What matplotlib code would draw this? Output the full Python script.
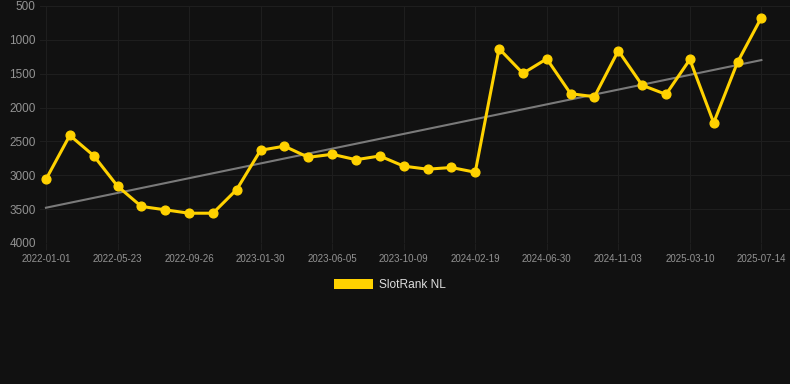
import numpy as np
import matplotlib
matplotlib.use("Agg")
import matplotlib.pyplot as plt
from matplotlib.patches import Patch

plt.rcParams['font.family'] = ['Liberation Sans', 'DejaVu Sans']

# slot rank per sample (lower is better, axis inverted)
rank = [3060, 2410, 2710, 3160, 3460, 3510, 3560, 3560, 3210, 2630,
        2570, 2735, 2690, 2770, 2715, 2865, 2910, 2885, 2955, 1130,
        1495, 1280, 1795, 1840, 1160, 1670, 1805, 1290, 2225, 1330,
        670]
tick_labels = ['2022-01-01', '2022-05-23', '2022-09-26', '2023-01-30',
               '2023-06-05', '2023-10-09', '2024-02-19', '2024-06-30',
               '2024-11-03', '2025-03-10', '2025-07-14']
series_name = 'SlotRank NL'

bg = '#111111'
gold = '#FFD200'

fig = plt.figure(figsize=(7.9, 3.84), dpi=100, facecolor=bg)
ax = fig.add_axes([40 / 790, 1 - 243 / 384, 750 / 790, 237 / 384])
ax.set_facecolor(bg)

x = np.arange(len(rank))
y = np.array(rank, dtype=float)

# linear trend
k, b = np.polyfit(x, y, 1)
ax.plot(x, k * x + b, color='#7a7a7a', lw=1.5, zorder=2)

ax.plot(x, y, color=gold, lw=2.2, marker='o', ms=6.3, zorder=3)

ax.set_xlim(-0.25, 31.2)
ax.set_ylim(4000, 500)
ax.set_yticks(np.arange(500, 4001, 500))
ax.set_xticks(x[::3])
ax.set_xticklabels(tick_labels)

ax.grid(True, color='#1e1e1e', lw=0.8)
for s in ax.spines.values():
    s.set_visible(False)
ax.tick_params(axis='y', length=0, pad=3, labelsize=8.5, labelcolor='#939393')
ax.tick_params(axis='x', length=5, color='#1e1e1e', pad=3, labelsize=7,
               labelcolor='#939393')

fig.legend(handles=[Patch(facecolor=gold, edgecolor='none', label=series_name)],
           loc='center', bbox_to_anchor=(390 / 790, 1 - 285 / 384),
           frameon=False, fontsize=8.6, labelcolor='#dddddd',
           handlelength=3.3, handleheight=0.95, handletextpad=0.5)

fig.savefig('out.png', dpi=100, facecolor=bg)
